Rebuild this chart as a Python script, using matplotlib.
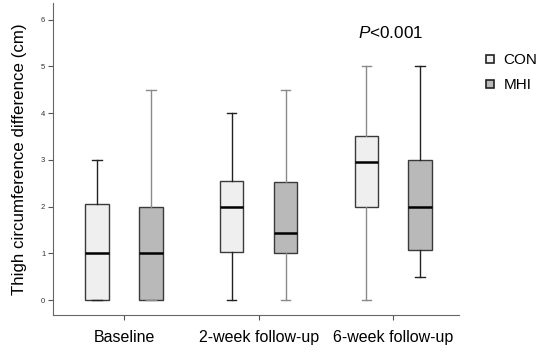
import matplotlib
matplotlib.use("Agg")
import matplotlib.pyplot as plt
from matplotlib.lines import Line2D

plt.rcParams['font.family'] = ['Liberation Sans', 'DejaVu Sans']
plt.rcParams['mathtext.fontset'] = 'custom'
plt.rcParams['mathtext.it'] = 'Liberation Sans:italic'
plt.rcParams['mathtext.rm'] = 'Liberation Sans'

categories = ["Baseline", "2-week follow-up", "6-week follow-up"]
groups = ["CON", "MHI"]
# five-number summaries: whisker low, Q1, median, Q3, whisker high
con_stats = [(0.0, 0.0, 1.0, 2.05, 3.0),
             (0.0, 1.03, 2.0, 2.55, 4.0),
             (0.0, 2.0, 2.95, 3.52, 5.0)]
mhi_stats = [(0.0, 0.0, 1.0, 2.0, 4.5),
             (0.0, 1.0, 1.44, 2.52, 4.5),
             (0.5, 1.08, 2.0, 3.0, 5.0)]
con_whisker_colors = ["#222222", "#222222", "#8a8a8a"]
mhi_whisker_colors = ["#8a8a8a", "#8a8a8a", "#222222"]
y_ticks = [0, 1, 2, 3, 4, 5, 6]
p_text = "<0.001"

fig = plt.figure(figsize=(5.46, 3.52), dpi=100)
ax = fig.add_axes([0.097, 0.105, 0.744, 0.887])

offset = 0.2
width = 0.175
fills = {"CON": "#efefef", "MHI": "#b9b9b9"}

def to_bxp(stats):
    out = []
    for s in stats:
        lo, q1, med, q3, hi = s
        out.append(dict(whislo=lo, q1=q1, med=med, q3=q3, whishi=hi, fliers=[]))
    return out

for g, stats, wcols, sign in [("CON", con_stats, con_whisker_colors, -1),
                              ("MHI", mhi_stats, mhi_whisker_colors, 1)]:
    for i, (s, wc) in enumerate(zip(to_bxp(stats), wcols)):
        ax.bxp([s], positions=[i + sign * offset], widths=width,
               patch_artist=True, showfliers=False,
               boxprops=dict(facecolor=fills[g], edgecolor="#3a3a3a", linewidth=1.0),
               medianprops=dict(color="black", linewidth=1.8),
               whiskerprops=dict(color=wc, linewidth=1.0),
               capprops=dict(color=wc, linewidth=1.0),
               capwidths=width * 0.4)

ax.set_xlim(-0.528, 2.49)
ax.set_ylim(-0.32, 6.36)
ax.set_xticks(range(len(categories)))
ax.set_xticklabels(categories, fontsize=11.5)
ax.set_yticks(y_ticks)
ax.set_yticklabels([str(t) for t in y_ticks], fontsize=5.5)
ax.tick_params(axis='y', length=3.5, width=0.8, colors="#555555", pad=2)
ax.tick_params(axis='x', length=3.5, width=0.8, colors="#555555", pad=7)
for lab in ax.get_xticklabels():
    lab.set_color("black")
for lab in ax.get_yticklabels():
    lab.set_color("#333333")
ax.spines['top'].set_visible(False)
ax.spines['right'].set_visible(False)
ax.spines['left'].set_color("#666666")
ax.spines['bottom'].set_color("#666666")
ax.set_ylabel("Thigh circumference difference (cm)", fontsize=12.2, labelpad=10)

ax.text(1.98, 5.72, r"$\mathit{P}$" + p_text, ha='center', va='center', fontsize=12.3)

handles = [Line2D([0], [0], marker='s', linestyle='none', markersize=6,
                  markerfacecolor=fills[g], markeredgecolor="#222222", markeredgewidth=1.2)
           for g in groups]
fig.legend(handles, groups, loc='upper left', bbox_to_anchor=(0.858, 0.888),
           frameon=False, fontsize=11, handletextpad=0.4, labelspacing=0.72,
           handlelength=1.0)

fig.savefig("out.png", dpi=100)
